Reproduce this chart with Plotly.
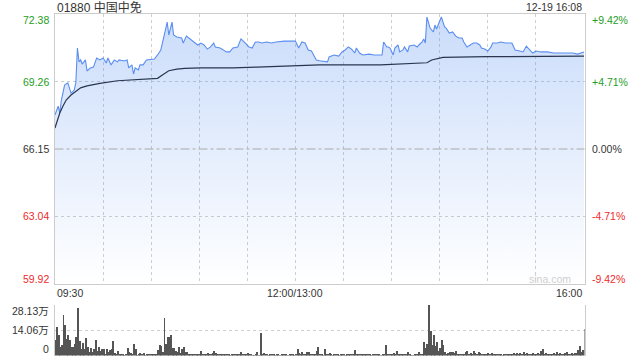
import plotly.graph_objects as go

W, H = 640, 360

# ---------------- data ----------------
pre_close = 66.15
y_ticks = [59.92, 63.04, 66.15, 69.26, 72.38]
pct_labels = ["-9.42%", "-4.71%", "0.00%", "+4.71%", "+9.42%"]

# minutes since 09:30 (lunch break removed: 150 = 12:00/13:00, 330 = 16:00)
price_min = [0,2,3,4,6,8,9,10,12,13,14,15,16,17,19,20,22,24,26,28,30,32,33,35,37,39,40,43,45,46,
             48,49,50,52,53,55,57,60,62,64,66,67,68,70,71,72,73,74,76,79,80,82,85,89,91,93,95,97,99,100,
             103,107,109,111,114,116,118,121,123,125,127,129,132,135,138,143,150,152,154,156,158,160,163,165,170,171,174,177,179,181,
             183,185,187,188,190,192,196,199,202,204,205,207,208,209,211,212,214,215,217,218,220,221,224,226,227,229,230,231,232,234,
             236,237,238,240,241,243,244,246,248,250,251,252,254,255,257,259,261,263,265,266,268,270,272,273,276,278,281,285,287,290,
             292,294,296,298,300,303,307,311,315,319,323,326,330]
price = [67.72,68.13,67.81,68.41,69.10,69.20,68.97,68.73,68.87,69.20,
         70.81,70.17,70.26,70.07,70.26,69.75,69.89,69.93,70.35,70.26,
         70.35,70.12,70.35,70.03,70.26,70.17,70.26,70.21,70.26,69.89,
         70.03,69.61,69.89,69.80,70.03,70.03,70.26,70.30,70.30,70.49,
         70.72,71.04,71.32,72.01,71.41,71.73,72.01,71.41,71.32,71.27,
         71.04,71.36,71.18,70.95,71.04,70.95,70.76,70.86,71.04,70.86,
         70.81,70.63,70.63,70.81,70.86,71.23,71.09,70.86,70.81,71.09,
         71.09,71.04,71.09,71.04,71.09,71.13,71.13,70.81,71.09,71.04,
         70.72,70.67,70.26,70.22,70.17,70.40,70.49,70.44,70.63,70.72,
         70.86,70.76,70.58,70.81,70.58,70.49,70.53,70.49,70.49,70.49,
         71.09,70.86,70.86,70.81,70.49,70.81,70.95,70.63,70.72,70.86,
         70.63,70.90,70.95,70.86,70.95,71.09,71.23,71.04,72.24,71.73,
         71.55,71.87,71.69,72.01,72.24,71.78,71.73,71.50,71.55,71.36,
         71.32,71.27,71.27,71.09,70.86,70.95,71.04,71.04,70.95,70.81,
         70.76,70.67,70.86,71.04,71.04,71.09,71.04,71.04,70.72,70.67,
         70.63,70.90,70.72,70.58,70.67,70.63,70.63,70.58,70.58,70.58,
         70.58,70.53,70.63]

avg_min = [0,2,3,5,7,10,13,16,20,28,39,60,64,67,71,76,81,91,111,126,149,165,203,228,232,235,242,269,330]
avg = [67.12,67.63,67.81,68.13,68.41,68.64,68.80,68.97,69.06,69.18,
       69.30,69.37,69.41,69.57,69.76,69.84,69.87,69.89,69.89,69.93,
       69.98,70.03,70.03,70.10,70.13,70.26,70.38,70.41,70.44]

# volume per minute, in 万
vol_morning = [9.0,15.9,11.8,5.1,6.2,22.7,17.4,9.4,11.8,8.8,
               5.1,5.1,6.4,10.7,26.5,8.4,3.8,7.3,3.8,10.1,
               5.1,2.4,4.5,2.4,3.9,9.0,2.8,5.1,2.8,3.8,
               4.1,1.3,4.1,2.4,3.2,3.6,8.4,1.7,1.3,2.8,
               0.9,0.6,0.9,0.4,0.6,4.5,2.3,1.7,1.3,6.9,
               3.6,0.4,0.9,1.5,0.6,1.5,0.4,0.9,0.6,1.3,
               0.9,1.3,0.6,0.9,3.4,6.2,5.8,2.3,20.8,6.4,
               10.7,10.3,11.8,4.5,4.5,2.8,2.4,5.1,1.9,3.8,
               5.1,2.4,2.3,0.9,0.6,0.9,1.3,0.6,0.9,1.3,
               0.6,2.8,0.9,0.6,0.9,1.5,0.6,0.9,1.5,2.8,
               1.5,0.9,0.6,0.8,0.6,0.8,0.6,0.8]
vol_mid = [0.6,0.4,0.6,0.9,0.6,1.0,0.6,0.9,2.3,0.6,
           0.9,0.6,1.7,0.9,0.6,0.4,0.4,0.9,2.3,0.4,
           12.9,0.6,1.7,0.6,0.6,0.4,0.6,0.9,0.6,0.4,
           0.6,0.6,0.4,0.6,0.6,0.9,0.6,0.4,0.6,0.9,
           0.6,0.4,0.6,3.9,1.7,1.3,2.3,0.9,0.6,2.3,
           2.3,0.9,0.9,0.6,1.3,2.8,5.1,0.9,0.6,0.4,
           3.9,0.9,1.3,1.7,0.6,0.4,0.6,0.6,0.9,0.4,
           0.6,0.9,0.6,0.4,1.3,0.9,1.3,0.6,0.9,3.4,
           0.9,0.6,1.3,0.9,0.6,1.3,0.6,1.3,0.9,0.4,
           0.6,0.9,0.6,0.9,0.6,0.4,0.9,0.6,6.2,1.3,
           0.9,0.6,1.3,1.7,0.9,2.8,0.9,1.3,0.6,0.9]
vol_late = [0.6,0.6,2.1,0.6,0.4,0.4,0.9,1.3,0.6,2.3,0.9,1.3,
            7.9,4.5,6.6,28.1,14.1,6.2,11.8,5.3,7.9,2.8,4.7,9.0,6.2,2.3,
            0.9,1.7,2.3,2.3,2.3,1.7,2.8,0.9,0.6,0.9,
            1.3,0.6,2.3,2.8,1.3,1.7,1.3,2.8,1.7,1.3,
            2.3,1.7,0.9,0.6,1.3,0.9,1.7,0.6,1.7,0.9,
            1.3,0.6,0.9,0.6,0.9,0.4,0.6,0.9,0.6,0.9,0.6,0.9,1.7,
            0.9,1.7,0.9,1.7,0.9,2.3,0.9,1.7,1.3,0.9,
            0.9,1.7,0.6,1.3,1.7,1.3,2.8,3.6,1.3,1.7,
            0.9,1.3,0.6,0.9,1.7,0.9,2.3,0.9,1.7,0.9,
            0.6,1.7,2.3,0.9,1.3,1.7,1.3,1.9,1.7,3.2,
            5.6,2.3,3.4,14.8]
volume = vol_morning + vol_mid + vol_late
vol_min = list(range(len(volume)))
vol_ticks = [0, 14.06, 28.13]
vol_labels = ["0", "14.06万", "28.13万"]

grid_minutes = list(range(0, 331, 30))
time_labels = ["09:30", "12:00/13:00", "16:00"]
time_label_min = [0, 150, 330]

title_text = "01880 中国中免"
stamp_text = "12-19 16:08"

# ---------------- styling helpers ----------------
def px_x(x):
    return x / W

def px_y(y):
    return 1 - y / H

FONT = "Liberation Sans, Arial, Noto Sans CJK SC, sans-serif"
GREEN = "#1e9e1e"
RED = "#ee2b2b"
DARK = "#333333"
GRID = "#cfcfcf"

X0, X1 = 54.5, 584.5
dom_x = [px_x(X0), px_x(X1)]
dom_main = [px_y(284), px_y(14)]
dom_vol = [px_y(355.5), px_y(304.5)]

fig = go.Figure()

fig.add_trace(go.Scatter(
    x=price_min, y=price, mode="lines",
    line=dict(color="#5a8ef0", width=1.1),
    fill="tozeroy",
    fillgradient=dict(type="vertical",
                      colorscale=[[0, "rgba(80,140,240,0.0)"], [1, "rgba(80,140,240,0.30)"]],
                      start=y_ticks[0], stop=max(price)),
    xaxis="x", yaxis="y", hoverinfo="skip"))

fig.add_trace(go.Scatter(
    x=avg_min, y=avg, mode="lines",
    line=dict(color="#2a3650", width=1.2),
    xaxis="x", yaxis="y", hoverinfo="skip"))

fig.add_trace(go.Bar(
    x=vol_min, y=volume, marker=dict(color="#555555", line=dict(width=0)),
    width=0.62, xaxis="x2", yaxis="y2", hoverinfo="skip"))

xr = [-0.3, 330.3]
fig.update_layout(
    width=W, height=H, margin=dict(l=0, r=0, t=0, b=0),
    paper_bgcolor="white", plot_bgcolor="white", showlegend=False,
    font=dict(family=FONT, size=10.5, color=DARK),
    bargap=0,
    xaxis=dict(domain=dom_x, range=xr, anchor="y", tickvals=grid_minutes,
               showticklabels=False, ticks="", showgrid=True, gridcolor=GRID,
               griddash="dot", gridwidth=1, zeroline=False,
               showline=True, mirror=True, linecolor="#cccccc", linewidth=1),
    yaxis=dict(domain=dom_main, range=[y_ticks[0], y_ticks[-1]], anchor="x",
               tickvals=[y_ticks[1], y_ticks[3]], showticklabels=False, ticks="",
               showgrid=True, gridcolor=GRID, griddash="dot", gridwidth=1,
               zeroline=False, showline=True, mirror=True, linecolor="#cccccc", linewidth=1),
    xaxis2=dict(domain=dom_x, range=xr, anchor="y2", showgrid=False,
                showticklabels=False, ticks="", zeroline=False, showline=False),
    yaxis2=dict(domain=dom_vol, range=[0, 28.2], anchor="x2",
                tickvals=[vol_ticks[1], vol_ticks[2]], showticklabels=False, ticks="",
                showgrid=True, gridcolor=GRID, griddash="dot", gridwidth=1,
                zeroline=False, showline=True, mirror=True, linecolor="#cccccc", linewidth=1),
)

# previous close line
fig.add_shape(type="line", xref="x domain", yref="y", x0=0, x1=1,
              y0=pre_close, y1=pre_close,
              line=dict(color="#aaaaaa", width=1, dash="dashdot"))

def level_color(v):
    if v > pre_close + 1e-9:
        return GREEN
    if v < pre_close - 1e-9:
        return RED
    return DARK

ann = []
n = len(y_ticks)
for i, (v, pct) in enumerate(zip(y_ticks, pct_labels)):
    shift = -6 if i == n - 1 else (5 if i == 0 else 0)
    col = level_color(v)
    ann.append(dict(x=px_x(51), xref="paper", y=v, yref="y", text=f"{v:.2f}",
                    xanchor="right", yanchor="middle", yshift=shift, showarrow=False,
                    font=dict(color=col, size=10.5)))
    ann.append(dict(x=px_x(589.5), xref="paper", y=v, yref="y", text=pct,
                    xanchor="left", yanchor="middle", yshift=shift, showarrow=False,
                    font=dict(color=col, size=10.5)))

vol_shift = [7, 0, -6.5]
for v, t, s in zip(vol_ticks, vol_labels, vol_shift):
    ann.append(dict(x=px_x(50.5), xref="paper", y=v, yref="y2", text=t,
                    xanchor="right", yanchor="middle", yshift=s, showarrow=False,
                    font=dict(color=DARK, size=10.5)))

anchors = ["left", "center", "right"]
for m, t, a in zip(time_label_min, time_labels, anchors):
    ann.append(dict(x=m, xref="x", y=px_y(293), yref="paper", text=t,
                    xanchor=a, yanchor="middle", showarrow=False,
                    font=dict(color=DARK, size=10.5)))

ann.append(dict(x=px_x(55), xref="paper", y=px_y(7.5), yref="paper", text=title_text,
                xanchor="left", yanchor="middle", showarrow=False,
                font=dict(color=DARK, size=12)))
ann.append(dict(x=px_x(584), xref="paper", y=px_y(7), yref="paper", text=stamp_text,
                xanchor="right", yanchor="middle", showarrow=False,
                font=dict(color=DARK, size=10.5)))
ann.append(dict(x=px_x(573), xref="paper", y=px_y(279), yref="paper", text="sina.com",
                xanchor="right", yanchor="middle", showarrow=False,
                font=dict(color="#cfcfcf", size=10.5)))

fig.update_layout(annotations=ann)

fig.write_html("out.html", config={"displayModeBar": False})
